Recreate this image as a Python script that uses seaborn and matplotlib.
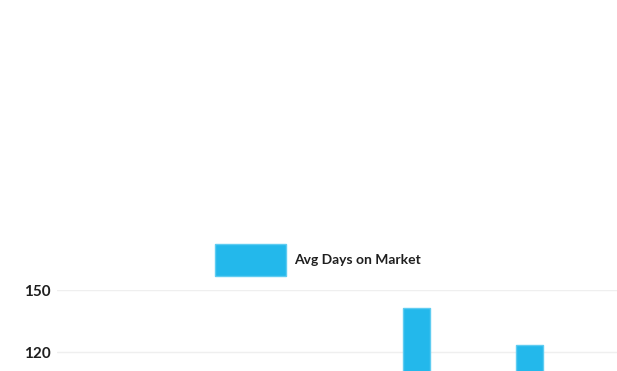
import matplotlib
matplotlib.use("Agg")
import matplotlib.pyplot as plt
import seaborn as sns
from matplotlib.patches import Patch

# Data (only the two tallest bars are visible in the cropped reference;
# the others sit below the visible window and are estimates)
categories = ["Q1", "Q2", "Q3", "Q4", "Q5"]
avg_days = [96, 104, 89, 141.3, 123.5]
series_label = "Avg Days on Market"
y_ticks = [0, 30, 60, 90, 120, 150]

sns.set_style("white")
plt.rcParams["font.family"] = ["Lato", "DejaVu Sans"]

BAR = "#23B8EB"
EDGE = "#5FCCF1"
TEXT = "#1f1f1f"
GRID = "#efefef"

W, H = 617, 371
fig = plt.figure(figsize=(W / 100, H / 100), dpi=100)

# visible window: 150 at y=290px, 2.067 px per unit, down to the figure bottom
px_per_unit = 62 / 30
top_px = 290
ax_h_px = H - top_px
y_low = 150 - ax_h_px / px_per_unit
left_px, right_px = 57, 617
ax = fig.add_axes([left_px / W, 0, (right_px - left_px) / W, ax_h_px / H])

sns.barplot(x=categories, y=avg_days, color=BAR, width=27 / 113,
            edgecolor=EDGE, linewidth=1, saturation=1, ax=ax, zorder=3)

ax.set_yticks(y_ticks)
ax.set_yticklabels([str(t) for t in y_ticks])
ax.set_ylim(y_low, 150)
x0 = (77 - left_px) / 113
ax.set_xlim(-x0, -x0 + (right_px - left_px) / 113)
ax.yaxis.grid(True, color=GRID, linewidth=1, zorder=0)
ax.xaxis.grid(False)
ax.set_axisbelow(True)
for s in ax.spines.values():
    s.set_visible(False)
ax.tick_params(axis="y", length=0, pad=4.8, labelsize=11, labelcolor=TEXT)
for lab in ax.get_yticklabels():
    lab.set_fontweight("bold")
ax.tick_params(axis="x", length=0, labelbottom=False)
ax.set_xlabel("")
ax.set_ylabel("")

fs = 10
handle = Patch(facecolor=BAR, edgecolor=EDGE, linewidth=1, label=series_label)
leg = fig.legend(handles=[handle], loc="center",
                 bbox_to_anchor=(318 / W, 1 - 260 / H),
                 frameon=False, fontsize=fs,
                 handlelength=5.11, handleheight=3.2,
                 handletextpad=0.54, borderpad=0, borderaxespad=0)
for t in leg.get_texts():
    t.set_color(TEXT)
    t.set_fontweight("bold")

fig.savefig("out.png", dpi=100)
